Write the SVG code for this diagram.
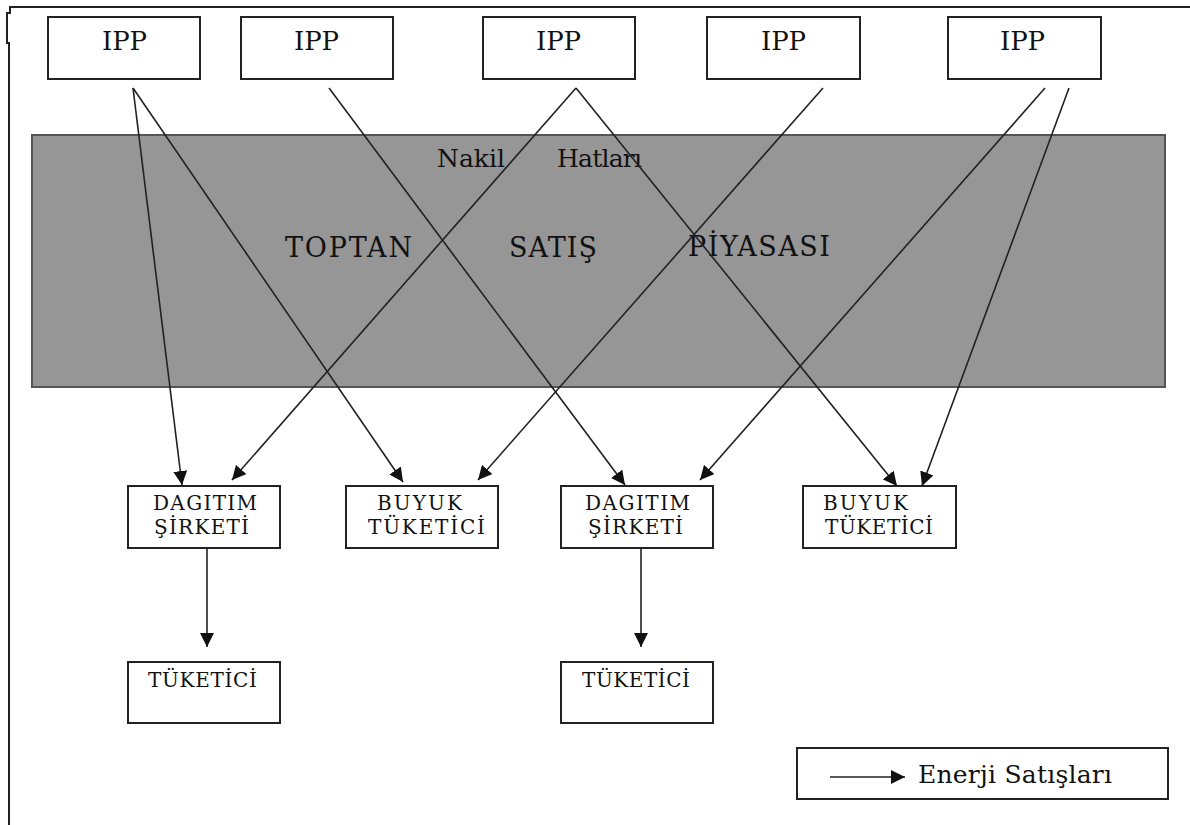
<svg xmlns="http://www.w3.org/2000/svg" width="1190" height="825" viewBox="0 0 1190 825">
<style>
.box{fill:#fff;stroke:#222;stroke-width:2}
.t{font-family:"DejaVu Serif","Liberation Serif",serif;fill:#111}
.ipp{font-size:26px}
.lbl{font-size:20px}
.band{font-size:27px}
.nk{font-size:25px}
.leg{font-size:25px}
.ln{stroke:#222;stroke-width:1.6;fill:none}
</style>
<defs>
<marker id="ah" viewBox="0 0 14 14" refX="14" refY="7" markerWidth="14" markerHeight="14" markerUnits="userSpaceOnUse" orient="auto">
<path d="M0,0 L14,7 L0,14 z" fill="#111"/>
</marker>
</defs>
<rect width="1190" height="825" fill="#fff"/>
<path id="frame" d="M1190,7 H10 V13 H7 V43 H9 V825" fill="none" stroke="#222" stroke-width="2"/>

<g id="band">
<rect x="32" y="135" width="1133" height="252" fill="#969696" stroke="#555" stroke-width="2"/>
<text class="t nk" x="437" y="167" textLength="68" lengthAdjust="spacing">Nakil</text>
<text class="t nk" x="557" y="167" textLength="85" lengthAdjust="spacing">Hatları</text>
<text class="t band" x="285" y="257" textLength="127" lengthAdjust="spacing">TOPTAN</text>
<text class="t band" x="509" y="257" textLength="88" lengthAdjust="spacing">SATIŞ</text>
<text class="t band" x="688" y="256" textLength="142" lengthAdjust="spacing">PİYASASI</text>
</g>

<g id="ipp1"><rect class="box" x="48" y="17" width="152" height="62"/><text class="t ipp" x="102" y="50" textLength="45" lengthAdjust="spacing">IPP</text></g>
<g id="ipp2"><rect class="box" x="241" y="17" width="152" height="62"/><text class="t ipp" x="294" y="50" textLength="45" lengthAdjust="spacing">IPP</text></g>
<g id="ipp3"><rect class="box" x="483" y="17" width="152" height="62"/><text class="t ipp" x="536" y="50" textLength="45" lengthAdjust="spacing">IPP</text></g>
<g id="ipp4"><rect class="box" x="707" y="17" width="153" height="62"/><text class="t ipp" x="761" y="50" textLength="45" lengthAdjust="spacing">IPP</text></g>
<g id="ipp5"><rect class="box" x="948" y="17" width="153" height="62"/><text class="t ipp" x="1000" y="50" textLength="45" lengthAdjust="spacing">IPP</text></g>

<g id="dagitim1"><rect class="box" x="128" y="486" width="152" height="62"/>
<text class="t lbl" x="153" y="510" textLength="104" lengthAdjust="spacing">DAGITIM</text>
<text class="t lbl" x="154" y="534" textLength="95" lengthAdjust="spacing">ŞİRKETİ</text></g>
<g id="buyuk1"><rect class="box" x="346" y="486" width="152" height="62"/>
<text class="t lbl" x="377" y="510" textLength="85" lengthAdjust="spacing">BUYUK</text>
<text class="t lbl" x="368" y="534" textLength="117" lengthAdjust="spacing">TÜKETİCİ</text></g>
<g id="dagitim2"><rect class="box" x="561" y="486" width="152" height="62"/>
<text class="t lbl" x="585" y="510" textLength="105" lengthAdjust="spacing">DAGITIM</text>
<text class="t lbl" x="588" y="534" textLength="95" lengthAdjust="spacing">ŞİRKETİ</text></g>
<g id="buyuk2"><rect class="box" x="803" y="486" width="153" height="62"/>
<text class="t lbl" x="823" y="510" textLength="85" lengthAdjust="spacing">BUYUK</text>
<text class="t lbl" x="825" y="534" textLength="108" lengthAdjust="spacing">TÜKETİCİ</text></g>

<g id="tuketici1"><rect class="box" x="128" y="662" width="152" height="61"/>
<text class="t lbl" x="148" y="687" textLength="109" lengthAdjust="spacing">TÜKETİCİ</text></g>
<g id="tuketici2"><rect class="box" x="561" y="662" width="152" height="61"/>
<text class="t lbl" x="582" y="687" textLength="108" lengthAdjust="spacing">TÜKETİCİ</text></g>

<g id="connectors" class="ln" marker-end="url(#ah)">
<line x1="133" y1="88" x2="182" y2="485"/>
<line x1="133" y1="88" x2="403" y2="482"/>
<line x1="329" y1="88" x2="625" y2="485"/>
<line x1="576" y1="88" x2="232" y2="480"/>
<line x1="576" y1="88" x2="897" y2="486"/>
<line x1="823" y1="88" x2="478" y2="480"/>
<line x1="1045" y1="88" x2="700" y2="480"/>
<line x1="1069" y1="88" x2="922" y2="486"/>
<line x1="207" y1="548" x2="207" y2="647"/>
<line x1="641" y1="548" x2="641" y2="647"/>
</g>

<g id="legend">
<rect class="box" x="797" y="748" width="371" height="51"/>
<line class="ln" x1="830" y1="777" x2="905" y2="777" marker-end="url(#ah)"/>
<text class="t leg" x="918" y="783" textLength="194" lengthAdjust="spacing">Enerji Satışları</text>
</g>
</svg>
